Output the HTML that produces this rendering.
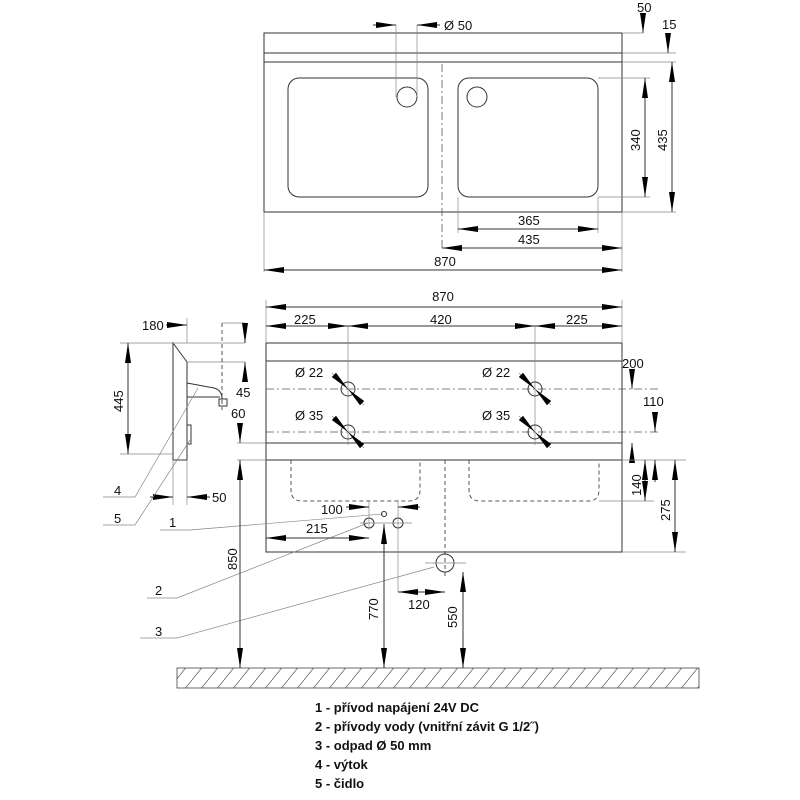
<!DOCTYPE html>
<html><head><meta charset="utf-8"><style>
html,body{margin:0;padding:0;background:#fff;}
svg{display:block;}
text{font-family:"Liberation Sans",Arial,sans-serif;font-size:13px;fill:#111;}
.l{stroke:#333;stroke-width:1;fill:none;}
.t{stroke:#888;stroke-width:0.7;fill:none;}
.d{stroke:#555;stroke-width:0.8;fill:none;stroke-dasharray:8 3 2 3;}
.dash{stroke:#555;stroke-width:1;fill:none;stroke-dasharray:4 3;}
.leg{font-weight:bold;font-size:13px;}
</style></head><body>
<svg width="800" height="800" viewBox="0 0 800 800" xmlns="http://www.w3.org/2000/svg">
<defs>
<marker id="a" viewBox="0 0 20 6" refX="20" refY="3" markerWidth="20" markerHeight="6" markerUnits="userSpaceOnUse" orient="auto-start-reverse"><path d="M0,0 L20,3 L0,6 Z" fill="#000"/></marker>
<pattern id="h" width="16" height="20" patternUnits="userSpaceOnUse"><path d="M0,20 L16,0" stroke="#666" stroke-width="0.8"/></pattern>
</defs>

<!-- ===== TOP VIEW ===== -->
<rect x="264" y="33" width="358" height="179" class="l"/>
<line x1="264" y1="53" x2="622" y2="53" class="l"/>
<line x1="264" y1="62" x2="622" y2="62" class="l"/>
<line x1="264" y1="212" x2="264" y2="272" class="t"/>
<line x1="622" y1="212" x2="622" y2="272" class="t"/>
<rect x="288" y="78" width="140" height="119" rx="11" class="l"/>
<rect x="458" y="78" width="140" height="119" rx="11" class="l"/>
<circle cx="407" cy="97" r="10" class="l"/>
<circle cx="477" cy="97" r="10" class="l"/>
<line x1="442" y1="64" x2="442" y2="250" class="d"/>
<line x1="396" y1="25" x2="396" y2="97" class="t"/>
<line x1="417" y1="25" x2="417" y2="97" class="t"/>
<line x1="373" y1="25" x2="396" y2="25" class="l" marker-end="url(#a)"/>
<line x1="440" y1="25" x2="417" y2="25" class="l" marker-end="url(#a)"/>
<text x="444" y="30">Ø 50</text>
<text x="637" y="12">50</text>
<line x1="643" y1="14" x2="643" y2="33" class="l" marker-end="url(#a)"/>
<line x1="622" y1="33" x2="643" y2="33" class="t"/>
<text x="662" y="29">15</text>
<line x1="668" y1="33" x2="668" y2="53" class="l" marker-end="url(#a)"/>
<line x1="622" y1="53" x2="676" y2="53" class="t"/>
<line x1="622" y1="62" x2="676" y2="62" class="t"/>
<line x1="672" y1="137" x2="672" y2="62" class="l" marker-end="url(#a)"/>
<line x1="672" y1="137" x2="672" y2="212" class="l" marker-end="url(#a)"/>
<line x1="598" y1="78" x2="650" y2="78" class="t"/>
<line x1="598" y1="197" x2="650" y2="197" class="t"/>
<line x1="622" y1="212" x2="676" y2="212" class="t"/>
<line x1="645" y1="137" x2="645" y2="78" class="l" marker-end="url(#a)"/>
<line x1="645" y1="137" x2="645" y2="197" class="l" marker-end="url(#a)"/>
<text transform="translate(640,151) rotate(-90)">340</text>
<text transform="translate(667,151) rotate(-90)">435</text>
<line x1="458" y1="197" x2="458" y2="233" class="t"/>
<line x1="598" y1="197" x2="598" y2="233" class="t"/>
<line x1="528" y1="229" x2="458" y2="229" class="l" marker-end="url(#a)"/>
<line x1="528" y1="229" x2="598" y2="229" class="l" marker-end="url(#a)"/>
<text x="518" y="225">365</text>
<line x1="532" y1="248" x2="442" y2="248" class="l" marker-end="url(#a)"/>
<line x1="532" y1="248" x2="622" y2="248" class="l" marker-end="url(#a)"/>
<text x="518" y="244">435</text>
<line x1="443" y1="270" x2="264" y2="270" class="l" marker-end="url(#a)"/>
<line x1="443" y1="270" x2="622" y2="270" class="l" marker-end="url(#a)"/>
<text x="445" y="266" text-anchor="middle">870</text>

<!-- ===== FRONT VIEW ===== -->
<rect x="266" y="343" width="356" height="209" class="l"/>
<line x1="266" y1="361" x2="622" y2="361" class="l"/>
<line x1="266" y1="443" x2="622" y2="443" class="l"/>
<line x1="266" y1="460" x2="622" y2="460" class="l"/>
<line x1="266" y1="389" x2="660" y2="389" class="d"/>
<line x1="266" y1="432" x2="660" y2="432" class="d"/>
<line x1="266" y1="300" x2="266" y2="343" class="t"/>
<line x1="622" y1="300" x2="622" y2="343" class="t"/>
<line x1="348" y1="326" x2="348" y2="445" class="t"/>
<line x1="535" y1="326" x2="535" y2="445" class="t"/>
<line x1="445" y1="307" x2="266" y2="307" class="l" marker-end="url(#a)"/>
<line x1="445" y1="307" x2="622" y2="307" class="l" marker-end="url(#a)"/>
<text x="443" y="301" text-anchor="middle">870</text>
<line x1="300" y1="326" x2="266" y2="326" class="l" marker-end="url(#a)"/>
<line x1="300" y1="326" x2="348" y2="326" class="l" marker-end="url(#a)"/>
<line x1="440" y1="326" x2="348" y2="326" class="l" marker-end="url(#a)"/>
<line x1="440" y1="326" x2="535" y2="326" class="l" marker-end="url(#a)"/>
<line x1="590" y1="326" x2="535" y2="326" class="l" marker-end="url(#a)"/>
<line x1="590" y1="326" x2="622" y2="326" class="l" marker-end="url(#a)"/>
<text x="294" y="324">225</text>
<text x="430" y="324">420</text>
<text x="566" y="324">225</text>
<g>
<circle cx="348" cy="389" r="7" class="l"/><circle cx="535" cy="389" r="7" class="l"/>
<circle cx="348" cy="432" r="7" class="l"/><circle cx="535" cy="432" r="7" class="l"/>
<line x1="332" y1="373" x2="348" y2="389" class="t" marker-end="url(#a)"/>
<line x1="364" y1="405" x2="348" y2="389" class="t" marker-end="url(#a)"/>
<line x1="519" y1="373" x2="535" y2="389" class="t" marker-end="url(#a)"/>
<line x1="551" y1="405" x2="535" y2="389" class="t" marker-end="url(#a)"/>
<line x1="332" y1="416" x2="348" y2="432" class="t" marker-end="url(#a)"/>
<line x1="364" y1="448" x2="348" y2="432" class="t" marker-end="url(#a)"/>
<line x1="519" y1="416" x2="535" y2="432" class="t" marker-end="url(#a)"/>
<line x1="551" y1="448" x2="535" y2="432" class="t" marker-end="url(#a)"/>
</g>
<text x="295" y="377">Ø 22</text>
<text x="482" y="377">Ø 22</text>
<text x="295" y="420">Ø 35</text>
<text x="482" y="420">Ø 35</text>
<path d="M291,460 V490 Q291,501 302,501 H409 Q420,501 420,490 V460" class="dash"/>
<path d="M469,460 V490 Q469,501 480,501 H588 Q599,501 599,490 V460" class="dash"/>
<line x1="445" y1="460" x2="445" y2="578" class="dash"/>
<text x="622" y="368">200</text>
<line x1="632" y1="370" x2="632" y2="389" class="l" marker-end="url(#a)"/>
<text x="643" y="406">110</text>
<line x1="655" y1="413" x2="655" y2="432" class="l" marker-end="url(#a)"/>
<line x1="632" y1="463" x2="632" y2="443" class="l" marker-end="url(#a)"/>
<line x1="622" y1="460" x2="686" y2="460" class="t"/>
<line x1="599" y1="501" x2="654" y2="501" class="t"/>
<line x1="622" y1="552" x2="686" y2="552" class="t"/>
<line x1="645" y1="480" x2="645" y2="460" class="l" marker-end="url(#a)"/>
<line x1="645" y1="480" x2="645" y2="501" class="l" marker-end="url(#a)"/>
<line x1="655" y1="482" x2="655" y2="460" class="l" marker-end="url(#a)"/>
<text transform="translate(641,496) rotate(-90)">140</text>
<line x1="675" y1="506" x2="675" y2="460" class="l" marker-end="url(#a)"/>
<line x1="675" y1="506" x2="675" y2="552" class="l" marker-end="url(#a)"/>
<text transform="translate(670,521) rotate(-90)">275</text>

<!-- ===== SIDE VIEW ===== -->
<path d="M173,343 L187,362 V460 H173 Z" class="l"/>
<path d="M187,383 L214,388 Q222,390 222,399" class="l"/>
<line x1="187" y1="397" x2="220" y2="397" class="l"/>
<rect x="219" y="399" width="8" height="7" class="l"/>
<rect x="187" y="425" width="4" height="19" class="l"/>
<line x1="120" y1="343" x2="245" y2="343" class="t"/>
<line x1="120" y1="454" x2="173" y2="454" class="t"/>
<line x1="187" y1="362" x2="245" y2="362" class="t"/>
<line x1="128" y1="398" x2="128" y2="343" class="l" marker-end="url(#a)"/>
<line x1="128" y1="398" x2="128" y2="454" class="l" marker-end="url(#a)"/>
<text transform="translate(123,412) rotate(-90)">445</text>
<line x1="187" y1="318" x2="187" y2="343" class="t"/>
<line x1="187" y1="460" x2="187" y2="505" class="t"/>
<line x1="173" y1="460" x2="173" y2="505" class="t"/>
<text x="142" y="330">180</text>
<line x1="166" y1="325" x2="187" y2="325" class="l" marker-end="url(#a)"/>
<line x1="222" y1="323" x2="222" y2="410" class="dash"/>
<line x1="222" y1="323" x2="245" y2="323" class="t"/>
<line x1="245" y1="323" x2="245" y2="343" class="l" marker-end="url(#a)"/>
<line x1="245" y1="382" x2="245" y2="362" class="l" marker-end="url(#a)"/>
<text x="236" y="397">45</text>
<text x="231" y="418">60</text>
<line x1="240" y1="423" x2="240" y2="443" class="l" marker-end="url(#a)"/>
<line x1="237" y1="443" x2="266" y2="443" class="t"/>
<line x1="237" y1="460" x2="266" y2="460" class="t"/>
<line x1="150" y1="497" x2="173" y2="497" class="l" marker-end="url(#a)"/>
<line x1="210" y1="497" x2="187" y2="497" class="l" marker-end="url(#a)"/>
<text x="212" y="502">50</text>
<text x="114" y="495">4</text>
<polyline points="103,497 135,497 198,388" class="t"/>
<text x="114" y="523">5</text>
<polyline points="103,525 135,525 190,440" class="t"/>
<text x="169" y="527">1</text>
<polyline points="160,530 190,530 383,514" class="t"/>
<text x="155" y="595">2</text>
<polyline points="147,598 177,598 368,523" class="t"/>
<text x="155" y="636">3</text>
<polyline points="140,638 177,638 434,567" class="t"/>
<circle cx="384" cy="514" r="2.5" class="l"/>
<circle cx="369" cy="523" r="5" class="l"/>
<circle cx="398" cy="523" r="5" class="l"/>
<line x1="360" y1="523" x2="412" y2="523" class="t"/>
<circle cx="445" cy="563" r="9" class="l"/>
<line x1="425" y1="563" x2="466" y2="563" class="t"/>
<line x1="369" y1="500" x2="369" y2="530" class="t"/>
<line x1="398" y1="500" x2="398" y2="592" class="t"/>
<text x="321" y="514">100</text>
<line x1="346" y1="507" x2="369" y2="507" class="l" marker-end="url(#a)"/>
<line x1="420" y1="507" x2="398" y2="507" class="l" marker-end="url(#a)"/>
<text x="306" y="533">215</text>
<line x1="318" y1="538" x2="266" y2="538" class="l" marker-end="url(#a)"/>
<line x1="318" y1="538" x2="369" y2="538" class="l" marker-end="url(#a)"/>
<line x1="421" y1="592" x2="398" y2="592" class="l" marker-end="url(#a)"/>
<line x1="421" y1="592" x2="445" y2="592" class="l" marker-end="url(#a)"/>
<text x="408" y="609">120</text>
<line x1="240" y1="565" x2="240" y2="460" class="l" marker-end="url(#a)"/>
<line x1="240" y1="565" x2="240" y2="668" class="l" marker-end="url(#a)"/>
<text transform="translate(237,570) rotate(-90)">850</text>
<line x1="384" y1="600" x2="384" y2="524" class="l" marker-end="url(#a)"/>
<line x1="384" y1="600" x2="384" y2="668" class="l" marker-end="url(#a)"/>
<text transform="translate(378,620) rotate(-90)">770</text>
<line x1="463" y1="572" x2="463" y2="668" class="t"/>
<line x1="463" y1="610" x2="463" y2="572" class="l" marker-end="url(#a)"/>
<line x1="463" y1="610" x2="463" y2="668" class="l" marker-end="url(#a)"/>
<text transform="translate(457,628) rotate(-90)">550</text>
<rect x="177" y="668" width="522" height="20" fill="url(#h)" stroke="#444" stroke-width="0.8"/>

<text class="leg" x="315" y="712">1 - přívod napájení 24V DC</text>
<text class="leg" x="315" y="731">2 - přívody vody (vnitřní závit G 1/2˝)</text>
<text class="leg" x="315" y="750">3 - odpad Ø 50 mm</text>
<text class="leg" x="315" y="769">4 - výtok</text>
<text class="leg" x="315" y="788">5 - čidlo</text>
</svg>
</body></html>
